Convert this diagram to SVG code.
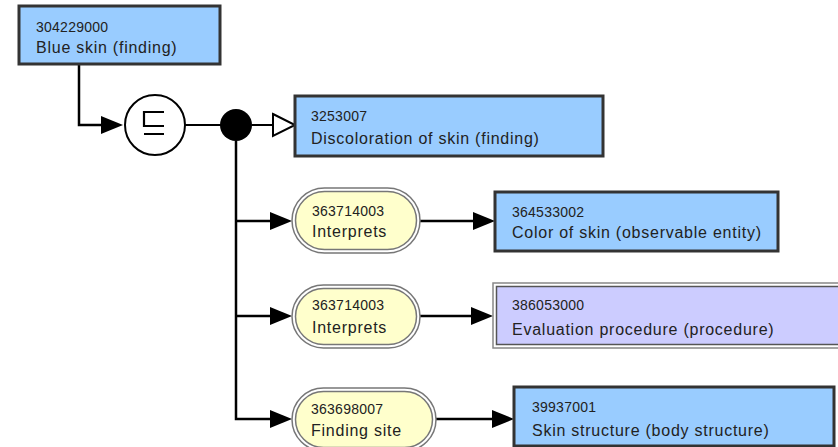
<svg xmlns="http://www.w3.org/2000/svg" width="838" height="447" viewBox="0 0 838 447">
<style>
.box{fill:#99CCFF;stroke:#333;stroke-width:3}
.proc-o{fill:#fff;stroke:#888;stroke-width:1.5}
.proc-i{fill:#CCCCFF;stroke:#555;stroke-width:1.5}
.pill-o{fill:#fff;stroke:#777;stroke-width:1.5}
.pill-i{fill:#FFFFCC;stroke:#777;stroke-width:1.5}
.num{font-family:"Liberation Sans",Arial,sans-serif;font-size:14px;letter-spacing:0.25px;fill:#222}
.name{font-family:"Liberation Sans",Arial,sans-serif;font-size:16px;letter-spacing:0.75px;fill:#222}
.conn{fill:none;stroke:#000;stroke-width:2.5}
.thin{fill:none;stroke:#000;stroke-width:2}
</style>
<defs>
<marker id="arr" markerUnits="userSpaceOnUse" markerWidth="22" markerHeight="18" refX="0" refY="9" orient="auto" overflow="visible">
<path d="M0,0 L22,9 L0,18 z" fill="#000"/>
</marker>
<marker id="hollow" markerUnits="userSpaceOnUse" markerWidth="22" markerHeight="22" refX="0" refY="11" orient="auto" overflow="visible">
<path d="M0,0 L22,11 L0,22 z" fill="#fff" stroke="#000" stroke-width="2"/>
</marker>
</defs>

<g id="connectors">
<path class="conn" d="M79,64 V125 H101" marker-end="url(#arr)"/>
<path class="thin" d="M185,125 H236"/>
<path class="thin" d="M252,125 H273" marker-end="url(#hollow)"/>
<path class="conn" d="M236,141 V419 H270" marker-end="url(#arr)"/>
<path class="conn" d="M236,221 H270" marker-end="url(#arr)"/>
<path class="conn" d="M236,316 H270" marker-end="url(#arr)"/>
<path class="conn" d="M420,221 H473" marker-end="url(#arr)"/>
<path class="conn" d="M420,316 H471" marker-end="url(#arr)"/>
<path class="conn" d="M436,419 H492" marker-end="url(#arr)"/>
</g>

<g id="node-304229000">
<rect class="box" x="19" y="6" width="201" height="58"/>
<text class="num" x="36" y="32">304229000</text>
<text class="name" x="36" y="53">Blue skin (finding)</text>
</g>

<g id="defstatus">
<circle cx="155" cy="125" r="30" fill="#fff" stroke="#000" stroke-width="2"/>
<path d="M164,112 H144 V126 H164 M144,134 H164" fill="none" stroke="#000" stroke-width="2.2"/>
</g>

<g id="conjunction">
<circle cx="236" cy="125" r="16" fill="#000"/>
</g>

<g id="node-3253007">
<rect class="box" x="295" y="96" width="308" height="60"/>
<text class="num" x="311" y="121">3253007</text>
<text class="name" x="311" y="144">Discoloration of skin (finding)</text>
</g>

<g id="attr-interprets-1">
<rect class="pill-o" x="292" y="188" width="128" height="65" rx="32.5"/>
<rect class="pill-i" x="295.5" y="191.5" width="121" height="58" rx="29"/>
<text class="num" x="312" y="216">363714003</text>
<text class="name" x="312" y="237">Interprets</text>
</g>

<g id="node-364533002">
<rect class="box" x="495" y="192" width="283" height="59"/>
<text class="num" x="512" y="217">364533002</text>
<text class="name" x="512" y="238">Color of skin (observable entity)</text>
</g>

<g id="attr-interprets-2">
<rect class="pill-o" x="292" y="285" width="128" height="63" rx="31.5"/>
<rect class="pill-i" x="295.5" y="288.5" width="121" height="56" rx="28"/>
<text class="num" x="312" y="310">363714003</text>
<text class="name" x="312" y="333">Interprets</text>
</g>

<g id="node-386053000">
<rect class="proc-o" x="493" y="283" width="360" height="65"/>
<rect class="proc-i" x="496.5" y="286.5" width="360" height="58"/>
<text class="num" x="512" y="310">386053000</text>
<text class="name" x="512" y="335">Evaluation procedure (procedure)</text>
</g>

<g id="attr-findingsite">
<rect class="pill-o" x="292" y="388" width="144" height="63" rx="31.5"/>
<rect class="pill-i" x="295.5" y="391.5" width="137" height="56" rx="28"/>
<text class="num" x="311" y="414">363698007</text>
<text class="name" x="311" y="436">Finding site</text>
</g>

<g id="node-39937001">
<rect class="box" x="514" y="387" width="320" height="59"/>
<text class="num" x="532" y="412">39937001</text>
<text class="name" x="532" y="436">Skin structure (body structure)</text>
</g>
</svg>
